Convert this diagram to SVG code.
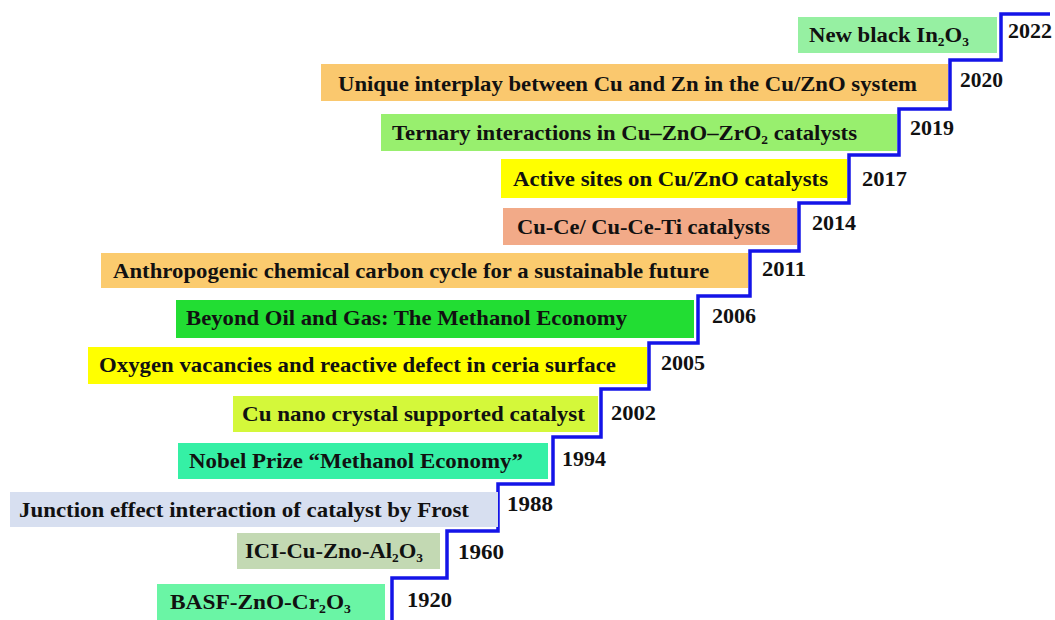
<svg xmlns="http://www.w3.org/2000/svg" width="1055" height="620" viewBox="0 0 1055 620">
<style>
.lbl{font-family:"Liberation Serif","Times New Roman",serif;font-weight:bold;font-size:22px;fill:#111111}
.yr{font-family:"Liberation Serif","Times New Roman",serif;font-weight:bold;font-size:21px;fill:#111111}
.sub{font-size:13px}
.stair{fill:none;stroke:#1414e8;stroke-width:3.5;stroke-linejoin:miter}
</style>
<rect width="1055" height="620" fill="#ffffff"/>
<g id="connectors">
<path class="stair" d="M1050,14 H1001 V60 H950 V109 H899 V155 H849 V203 H799 V251 H750 V296 H698 V343 H649 V389 H601 V437 H553 V484 H498 V531 H447 V578 H392 V620"/>
</g>
<g id="n2022">
<rect x="798" y="17" width="199" height="36" fill="#96f0a2"/>
<text class="lbl" x="809" y="42" textLength="160" lengthAdjust="spacingAndGlyphs">New black In<tspan class="sub" dy="4">2</tspan><tspan dy="-4">O</tspan><tspan class="sub" dy="4">3</tspan></text>
<text class="yr" x="1008" y="38" textLength="44" lengthAdjust="spacingAndGlyphs">2022</text>
</g>
<g id="n2020">
<rect x="321" y="64" width="627" height="37" fill="#fac86e"/>
<text class="lbl" x="338" y="91" textLength="579" lengthAdjust="spacingAndGlyphs">Unique interplay between Cu and Zn in the Cu/ZnO system</text>
<text class="yr" x="960" y="87" textLength="43" lengthAdjust="spacingAndGlyphs">2020</text>
</g>
<g id="n2019">
<rect x="381" y="114" width="516" height="37" fill="#98ef6e"/>
<text class="lbl" x="392" y="140" textLength="465" lengthAdjust="spacingAndGlyphs">Ternary interactions in Cu–ZnO–ZrO<tspan class="sub" dy="4">2</tspan><tspan dy="-4"> catalysts</tspan></text>
<text class="yr" x="910" y="135" textLength="44" lengthAdjust="spacingAndGlyphs">2019</text>
</g>
<g id="n2017">
<rect x="501" y="159" width="346" height="39" fill="#ffff00"/>
<text class="lbl" x="513" y="186" textLength="315" lengthAdjust="spacingAndGlyphs">Active sites on Cu/ZnO catalysts</text>
<text class="yr" x="862" y="186" textLength="45" lengthAdjust="spacingAndGlyphs">2017</text>
</g>
<g id="n2014">
<rect x="503" y="208" width="294" height="37" fill="#f2aa88"/>
<text class="lbl" x="517" y="234" textLength="253" lengthAdjust="spacingAndGlyphs">Cu-Ce/ Cu-Ce-Ti catalysts</text>
<text class="yr" x="812" y="230" textLength="44" lengthAdjust="spacingAndGlyphs">2014</text>
</g>
<g id="n2011">
<rect x="101" y="253" width="647" height="35" fill="#fbcb6e"/>
<text class="lbl" x="113" y="278" textLength="596" lengthAdjust="spacingAndGlyphs">Anthropogenic chemical carbon cycle for a sustainable future</text>
<text class="yr" x="762" y="276" textLength="44" lengthAdjust="spacingAndGlyphs">2011</text>
</g>
<g id="n2006">
<rect x="176" y="300" width="518" height="38" fill="#22dd33"/>
<text class="lbl" x="186" y="325" textLength="441" lengthAdjust="spacingAndGlyphs">Beyond Oil and Gas: The Methanol Economy</text>
<text class="yr" x="712" y="323" textLength="44" lengthAdjust="spacingAndGlyphs">2006</text>
</g>
<g id="n2005">
<rect x="88" y="347" width="559" height="37" fill="#ffff00"/>
<text class="lbl" x="99" y="372" textLength="517" lengthAdjust="spacingAndGlyphs">Oxygen vacancies and reactive defect in ceria surface</text>
<text class="yr" x="661" y="370" textLength="44" lengthAdjust="spacingAndGlyphs">2005</text>
</g>
<g id="n2002">
<rect x="233" y="396" width="365" height="36" fill="#d4f83a"/>
<text class="lbl" x="242" y="421" textLength="343" lengthAdjust="spacingAndGlyphs">Cu nano crystal supported catalyst</text>
<text class="yr" x="611" y="420" textLength="45" lengthAdjust="spacingAndGlyphs">2002</text>
</g>
<g id="n1994">
<rect x="178" y="443" width="370" height="36" fill="#35f0a5"/>
<text class="lbl" x="189" y="468" textLength="334" lengthAdjust="spacingAndGlyphs">Nobel Prize “Methanol Economy”</text>
<text class="yr" x="562" y="466" textLength="44" lengthAdjust="spacingAndGlyphs">1994</text>
</g>
<g id="n1988">
<rect x="10" y="492" width="488" height="35" fill="#d7dff0"/>
<text class="lbl" x="19" y="517" textLength="450" lengthAdjust="spacingAndGlyphs">Junction effect interaction of catalyst by Frost</text>
<text class="yr" x="507" y="511" textLength="46" lengthAdjust="spacingAndGlyphs">1988</text>
</g>
<g id="n1960">
<rect x="237" y="533" width="203" height="36" fill="#c3d9b3"/>
<text class="lbl" x="245" y="558" textLength="178" lengthAdjust="spacingAndGlyphs">ICI-Cu-Zno-Al<tspan class="sub" dy="4">2</tspan><tspan dy="-4">O</tspan><tspan class="sub" dy="4">3</tspan></text>
<text class="yr" x="458" y="559" textLength="46" lengthAdjust="spacingAndGlyphs">1960</text>
</g>
<g id="n1920">
<rect x="157" y="584" width="228" height="36" fill="#6af5a5"/>
<text class="lbl" x="170" y="609" textLength="181" lengthAdjust="spacingAndGlyphs">BASF-ZnO-Cr<tspan class="sub" dy="4">2</tspan><tspan dy="-4">O</tspan><tspan class="sub" dy="4">3</tspan></text>
<text class="yr" x="407" y="607" textLength="45" lengthAdjust="spacingAndGlyphs">1920</text>
</g>
</svg>
